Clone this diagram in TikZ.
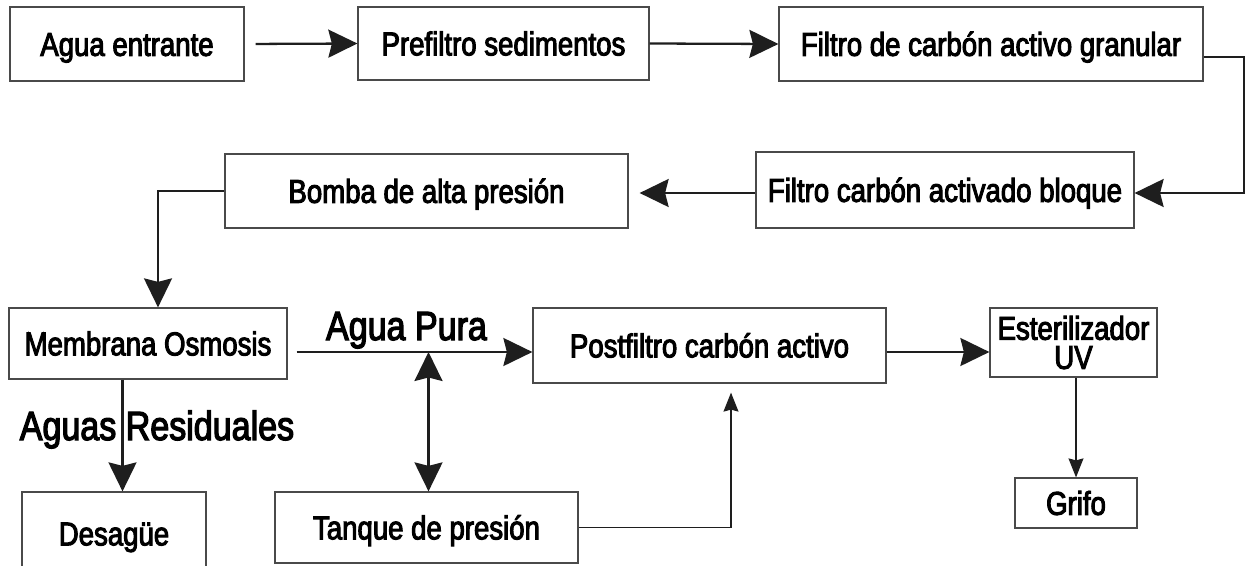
\documentclass[tikz,border=0pt]{standalone}
\usepackage{fontspec}
\setmainfont[FakeStretch=0.835,FakeBold=3]{Liberation Sans}
\usepackage{tikz}
\usetikzlibrary{arrows.meta}
\definecolor{inkgray}{HTML}{1E1E1E}
\definecolor{edgegray}{HTML}{4A4A4A}
\tikzset{block/.style={draw=edgegray, line width=0.7pt, inner sep=0mm, align=center,
        font=\fontsize{18.8}{16.6}\selectfont, text height=0.474cm, text depth=0cm}}
\tikzset{tag/.style={draw=none, fill=none, inner sep=0mm, anchor=base,
        font=\fontsize{23.2}{26}\selectfont}}
\tikzset{bighead/.tip={Stealth[length=0.58cm, width=0.56cm, inset=0.07cm]}}
\tikzset{smallhead/.tip={Stealth[length=0.38cm, width=0.3cm, inset=0.04cm]}}
\tikzset{flow/.style={draw=inkgray, line width=1.3pt, -bighead}}
\tikzset{thinflow/.style={draw=inkgray, line width=0.6pt, -smallhead}}

\begin{document}
\begin{tikzpicture}
    \useasboundingbox (0cm, 0cm) rectangle (24.96cm, 11.3cm);

    \node (agua) at (2.54cm, 10.42cm) [block, minimum width=4.68cm, minimum height=1.48cm] {Agua entrante};
    \node (prefiltro) at (10.07cm, 10.43cm) [block, minimum width=5.82cm, minimum height=1.46cm] {Prefiltro sedimentos};
    \node (granular) at (19.82cm, 10.42cm) [block, minimum width=8.48cm, minimum height=1.48cm] {Filtro de carbón activo granular};

    \node (bloque) at (18.9cm, 7.5cm) [block, minimum width=7.56cm, minimum height=1.52cm] {Filtro carbón activado bloque};
    \node (bomba) at (8.53cm, 7.48cm) [block, minimum width=8.06cm, minimum height=1.48cm] {Bomba de alta presión};

    \node (membrana) at (2.96cm, 4.43cm) [block, minimum width=5.56cm, minimum height=1.42cm] {Membrana Osmosis};
    \node (postfiltro) at (14.19cm, 4.39cm) [block, minimum width=7.06cm, minimum height=1.5cm] {Postfiltro carbón activo};
    \node (esteril) at (21.47cm, 4.45cm) [block, minimum width=3.34cm, minimum height=1.38cm, text height={}, text depth={}] {Esterilizador\\UV};
    \node (grifo) at (21.52cm, 1.24cm) [block, minimum width=2.44cm, minimum height=1.0cm] {Grifo};
    \node (tanque) at (8.53cm, 0.75cm) [block, minimum width=6.06cm, minimum height=1.42cm] {Tanque de presión};
    \node (desague) at (2.28cm, 0.63cm) [block, minimum width=3.68cm, minimum height=1.66cm] {Desagüe};

    \node (pura) at (8.13cm, 4.5cm) [tag] {Agua Pura};
    \node (residuales) at (3.14cm, 2.5cm) [tag] {Aguas Residuales};

    \coordinate (turn) at (24.88cm, 8.9cm);
    \coordinate (tee) at (8.57cm, 4.26cm);

    \draw[flow, shorten <=0.22cm] (agua.east) -- (prefiltro.west);
    \draw[flow] (prefiltro.east) -- (granular.west);
    \draw[flow] ([yshift=-0.26cm]granular.east) -| (turn) |- ([yshift=-0.06cm]bloque.east);
    \draw[flow, shorten >=0.22cm] ([yshift=-0.06cm]bloque.west) -- ([yshift=-0.06cm]bloque.west -| bomba.east);
    \draw[flow] (bomba.west) -| ([xshift=0.2cm]membrana.north);

    \draw[flow, shorten <=0.18cm] (tee -| membrana.east) -- (tee -| postfiltro.west);
    \draw[flow] (tee -| postfiltro.east) -- (tee -| esteril.west);
    \draw[flow, bighead-bighead] (tee) -- (tee |- tanque.north);
    \draw[flow] ([xshift=-0.51cm]membrana.south) -- ([xshift=-0.51cm]membrana.south |- desague.north);

    \draw[thinflow] (grifo.north |- esteril.south) -- (grifo.north);
    \draw[thinflow, shorten >=0.18cm] (tanque.east) -| ([xshift=0.43cm]postfiltro.south);
\end{tikzpicture}
\end{document}
